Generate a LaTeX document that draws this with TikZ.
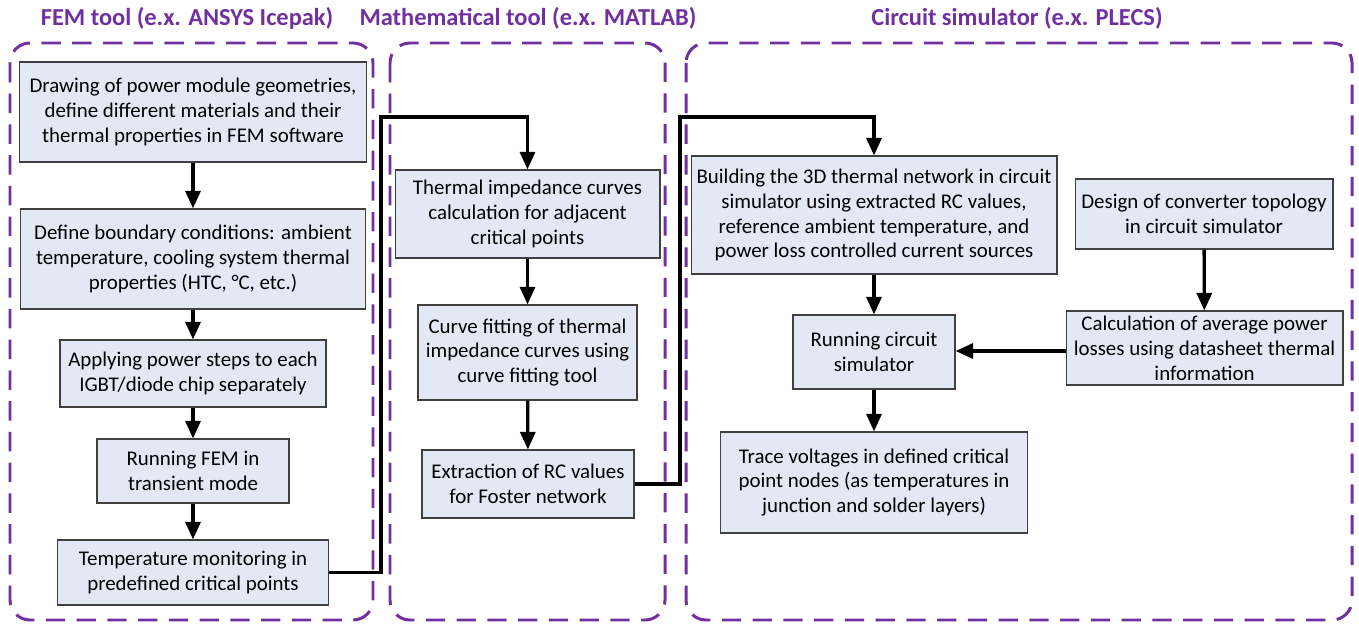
\documentclass[tikz,border=0pt]{standalone}
\usepackage{fontspec}
\setmainfont{Carlito}
\usepackage{tikz}
\usetikzlibrary{arrows.meta, positioning}
\definecolor{toolpurple}{RGB}{112,48,160}
\definecolor{stepfill}{RGB}{226,233,245}
\definecolor{stepdraw}{RGB}{64,64,64}
\tikzstyle{stepbox} = [
    rectangle, 
    align=center, 
    inner sep=2pt,
    draw=stepdraw, 
    line width=0.6pt,
    fill=stepfill,
    font=\fontsize{11.9}{14.2}\selectfont
]
\tikzstyle{toolframe} = [
    draw=toolpurple, 
    line width=1.7pt, 
    dash pattern=on 11pt off 6.5pt,
    rounded corners=0.4cm
]
\tikzstyle{tooltitle} = [
    text=toolpurple,
    font=\fontsize{13.9}{16}\selectfont\bfseries
]
\tikzstyle{arrow} = [line width=1.9pt,-{Triangle[length=10pt,width=8.5pt]}]

\begin{document}
\begin{tikzpicture}[x=0.02cm, y=-0.02cm]
\useasboundingbox (0,0) rectangle (1359,624);

% tool frames
\draw[toolframe] (10,43) rectangle (373,620);
\draw[toolframe] (390,43) rectangle (665,620);
\draw[toolframe] (686,43) rectangle (1352,620);

\node (femtitle) [tooltitle] at (187,18) {FEM tool (e.x. ANSYS Icepak)};
\node (mathtitle) [tooltitle] at (528,18) {Mathematical tool (e.x. MATLAB)};
\node (circtitle) [tooltitle] at (1017,18) {Circuit simulator (e.x. PLECS)};

% FEM tool
\node (draw) [stepbox, minimum width=6.96cm, minimum height=2.00cm] at (193,112) {Drawing of power module geometries,\\define different materials and their\\thermal properties in FEM software};
\node (bound) [stepbox, minimum width=6.92cm, minimum height=2.00cm] at (193,259) {Define boundary conditions: ambient\\temperature, cooling system thermal\\properties (HTC, °C, etc.)};
\node (power) [stepbox, minimum width=5.32cm, minimum height=1.34cm] at (193,373.5) {Applying power steps to each\\IGBT/diode chip separately};
\node (runfem) [stepbox, minimum width=3.84cm, minimum height=1.28cm] at (193,471) {Running FEM in\\transient mode};
\node (monitor) [stepbox, minimum width=5.42cm, minimum height=1.30cm] at (193,572.5) {Temperature monitoring in\\predefined critical points};

% mathematical tool
\node (zth) [stepbox, minimum width=5.30cm, minimum height=1.76cm] at (527.5,214) {Thermal impedance curves\\calculation for adjacent\\critical points};
\node (fit) [stepbox, minimum width=4.38cm, minimum height=1.90cm] at (527.5,352.5) {Curve fitting of thermal\\impedance curves using\\curve fitting tool};
\node (foster) [stepbox, minimum width=4.24cm, minimum height=1.36cm] at (528,484) {Extraction of RC values\\for Foster network};

% circuit simulator
\node (network) [stepbox, minimum width=7.32cm, minimum height=2.36cm] at (874,215) {Building the 3D thermal network in circuit\\simulator using extracted RC values,\\reference ambient temperature, and\\power loss controlled current sources};
\node (topo) [stepbox, minimum width=5.16cm, minimum height=1.40cm] at (1204,214) {Design of converter topology\\in circuit simulator};
\node (losses) [stepbox, minimum width=5.54cm, minimum height=1.48cm] at (1204.5,348) {Calculation of average power\\losses using datasheet thermal\\information};
\node (runsim) [stepbox, minimum width=3.24cm, minimum height=1.48cm] at (874,352) {Running circuit\\simulator};
\node (trace) [stepbox, minimum width=6.14cm, minimum height=2.02cm] at (874,482.5) {Trace voltages in defined critical\\point nodes (as temperatures in\\junction and solder layers)};

\coordinate (bendfem) at (381,117);
\coordinate (bendmath) at (680,117);

\draw[arrow] (draw) -- (bound);
\draw[arrow] (bound) -- (power);
\draw[arrow] (power) -- (runfem);
\draw[arrow] (runfem) -- (monitor);
\draw[arrow] (monitor.east) -| (bendfem) -| (zth.north);
\draw[arrow] (zth) -- (fit);
\draw[arrow] (fit) -- (foster);
\draw[arrow] (foster.east) -| (bendmath) -| (network.north);
\draw[arrow] (network) -- (runsim);
\draw[arrow] (runsim) -- (trace);
\draw[arrow] (topo) -- (losses);
\draw[arrow] (losses.west |- 0,351) -- (runsim.east |- 0,351);

\end{tikzpicture}
\end{document}
